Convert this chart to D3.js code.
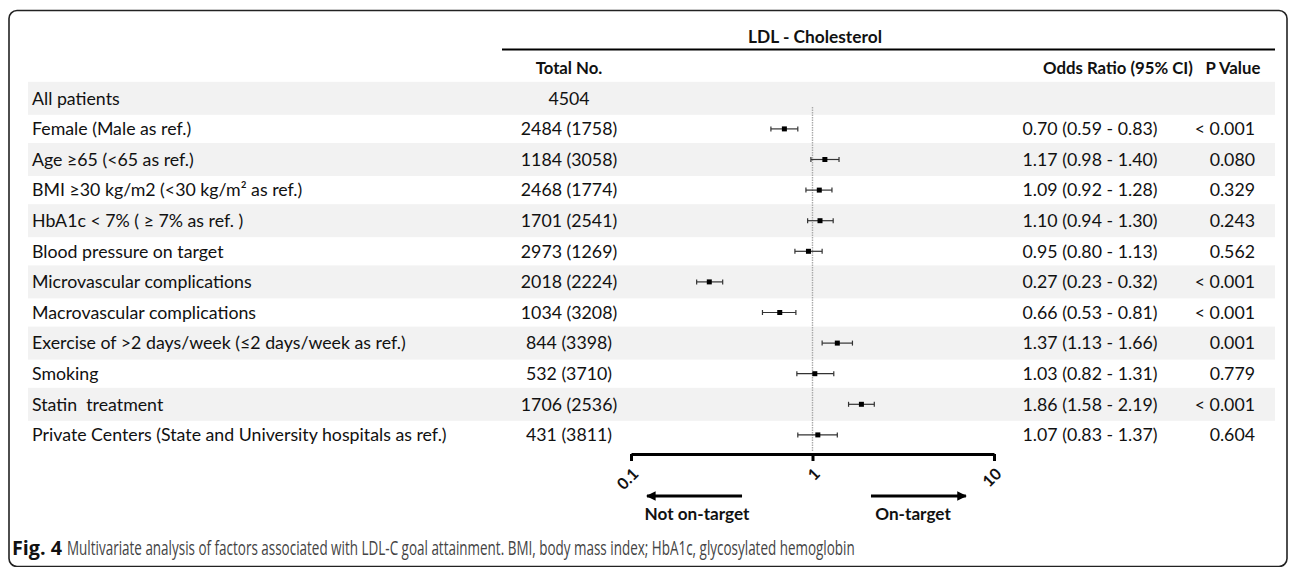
<!DOCTYPE html>
<html>
<head>
<meta charset="utf-8">
<script src="https://cdn.jsdelivr.net/npm/d3@7"></script>
<style>
  html, body { margin: 0; padding: 0; background: #fff; }
  svg { display: block; }
</style>
</head>
<body>
<svg id="chart" width="1290" height="567"></svg>
<script>
// ---------------- DATA ----------------
const categories = [
  "All patients",
  "Female (Male as ref.)",
  "Age \u226565 (<65 as ref.)",
  "BMI \u226530 kg/m2 (<30 kg/m\u00b2 as ref.)",
  "HbA1c < 7% ( \u2265 7% as ref. )",
  "Blood pressure on target",
  "Microvascular complications",
  "Macrovascular complications",
  "Exercise of >2 days/week (\u22642 days/week as ref.)",
  "Smoking",
  "Statin  treatment",
  "Private Centers (State and University hospitals as ref.)"
];
const totalNo = ["4504", "2484 (1758)", "1184 (3058)", "2468 (1774)", "1701 (2541)", "2973 (1269)",
  "2018 (2224)", "1034 (3208)", "844 (3398)", "532 (3710)", "1706 (2536)", "431 (3811)"];
const oddsRatio = [null, 0.70, 1.17, 1.09, 1.10, 0.95, 0.27, 0.66, 1.37, 1.03, 1.86, 1.07];
const ciLower   = [null, 0.59, 0.98, 0.92, 0.94, 0.80, 0.23, 0.53, 1.13, 0.82, 1.58, 0.83];
const ciUpper   = [null, 0.83, 1.40, 1.28, 1.30, 1.13, 0.32, 0.81, 1.66, 1.31, 2.19, 1.37];
const pValues   = ["", "< 0.001", "0.080", "0.329", "0.243", "0.562", "< 0.001", "< 0.001", "0.001", "0.779", "< 0.001", "0.604"];
const tickValues = [0.1, 1, 10];
const tickLabels = ["0.1", "1", "10"];
const title = "LDL - Cholesterol";
const colHeaders = ["Total No.", "Odds Ratio (95% CI)", "P Value"];
const directionLabels = ["Not on-target", "On-target"];
const captionBold = "Fig. 4";
const captionText = "Multivariate analysis of factors associated with LDL-C goal attainment. BMI, body mass index; HbA1c, glycosylated hemoglobin";

// ---------------- LAYOUT ----------------
const svg = d3.select("#chart");
const FONT = "Lato, 'Open Sans', 'Liberation Sans', sans-serif";

function fitWidth(sel, target) {
  const w = sel.node().getComputedTextLength();
  const fs = parseFloat(sel.attr("font-size"));
  const nfs = fs * target / w;
  sel.attr("font-size", nfs);
  return nfs;
}

// outer rounded border
svg.append("rect")
  .attr("x", 9).attr("y", 10.5).attr("width", 1278).attr("height", 556)
  .attr("rx", 8).attr("ry", 8)
  .attr("fill", "none").attr("stroke", "#222").attr("stroke-width", 1.6);

const y = d3.scaleBand().domain(categories).range([83, 83 + 30.6 * categories.length]).padding(0);
const yc = d => y(d) + y.bandwidth() / 2;
const x = d3.scaleLog().domain([0.1, 10]).range([631, 994]);

// alternating row bands
svg.append("g").selectAll("rect")
  .data(categories.filter((d, i) => i % 2 === 0))
  .join("rect")
  .attr("x", 28).attr("width", 1275 - 28)
  .attr("y", d => yc(d) - 16.5).attr("height", 33)
  .attr("fill", "#f2f2f2");

// header
const titleT = svg.append("text")
  .attr("x", 815).attr("y", 43).attr("text-anchor", "middle")
  .attr("font-family", FONT).attr("font-weight", "bold").attr("font-size", 16)
  .attr("fill", "#111").text(title);
fitWidth(titleT, 134);

svg.append("line").attr("x1", 502).attr("x2", 1275).attr("y1", 49.5).attr("y2", 49.5)
  .attr("stroke", "#000").attr("stroke-width", 2.2);

const hdrX = [569, 1118, 1233];
const hdrs = colHeaders.map((h, i) => svg.append("text")
    .attr("x", hdrX[i]).attr("y", 74).attr("text-anchor", "middle")
    .attr("font-family", FONT).attr("font-weight", "bold").attr("font-size", 15)
    .attr("fill", "#111").text(h));
const hfs = fitWidth(hdrs[1], 150);
hdrs.forEach(h => h.attr("font-size", hfs));

// row labels
const labG = svg.append("g").attr("font-family", FONT).attr("fill", "#111");
const labels = labG.selectAll("text.lab")
  .data(categories).join("text").attr("class", "lab")
  .attr("x", 32).attr("y", d => yc(d)).attr("dy", "0.35em")
  .attr("font-size", 15).attr("xml:space", "preserve")
  .text(d => d);
const longest = labels.filter((d, i) => i === categories.length - 1);
const fs = fitWidth(longest, 415);
labels.attr("font-size", fs);

labG.selectAll("text.tot")
  .data(categories).join("text").attr("class", "tot")
  .attr("x", 569).attr("y", d => yc(d)).attr("dy", "0.35em").attr("text-anchor", "middle")
  .attr("font-size", fs)
  .text((d, i) => totalNo[i]);

labG.selectAll("text.or")
  .data(categories).join("text").attr("class", "or")
  .attr("x", 1090).attr("y", d => yc(d)).attr("dy", "0.35em").attr("text-anchor", "middle")
  .attr("font-size", fs)
  .text((d, i) => oddsRatio[i] == null ? "" :
    `${oddsRatio[i].toFixed(2)} (${ciLower[i].toFixed(2)} - ${ciUpper[i].toFixed(2)})`);

labG.selectAll("text.p")
  .data(categories).join("text").attr("class", "p")
  .attr("x", 1255).attr("y", d => yc(d)).attr("dy", "0.35em").attr("text-anchor", "end")
  .attr("font-size", fs)
  .text((d, i) => pValues[i]);

// reference line at OR = 1
svg.append("line")
  .attr("x1", x(1)).attr("x2", x(1)).attr("y1", 107).attr("y2", 452)
  .attr("stroke", "#aaa").attr("stroke-width", 1.4).attr("stroke-dasharray", "1.5,1");

// CI whiskers and points
const pts = categories.map((c, i) => ({ c, or: oddsRatio[i], lo: ciLower[i], hi: ciUpper[i] }))
  .filter(d => d.or != null);
const fg = svg.append("g");
fg.selectAll("line.ci").data(pts).join("line").attr("class", "ci")
  .attr("x1", d => x(d.lo)).attr("x2", d => x(d.hi))
  .attr("y1", d => yc(d.c)).attr("y2", d => yc(d.c))
  .attr("stroke", "#333").attr("stroke-width", 1.2);
fg.selectAll("line.capL").data(pts).join("line").attr("class", "capL")
  .attr("x1", d => x(d.lo)).attr("x2", d => x(d.lo))
  .attr("y1", d => yc(d.c) - 2.5).attr("y2", d => yc(d.c) + 2.5)
  .attr("stroke", "#333").attr("stroke-width", 1.2);
fg.selectAll("line.capH").data(pts).join("line").attr("class", "capH")
  .attr("x1", d => x(d.hi)).attr("x2", d => x(d.hi))
  .attr("y1", d => yc(d.c) - 2.5).attr("y2", d => yc(d.c) + 2.5)
  .attr("stroke", "#333").attr("stroke-width", 1.2);
fg.selectAll("rect.pt").data(pts).join("rect").attr("class", "pt")
  .attr("x", d => x(d.or) - 2.5).attr("y", d => yc(d.c) - 2.5)
  .attr("width", 5).attr("height", 5).attr("fill", "#000");

// axis
const axis = d3.axisBottom(x).tickValues(tickValues)
  .tickFormat((d, i) => tickLabels[i]).tickSizeOuter(0).tickSizeInner(7).tickPadding(4);
const ax = svg.append("g").attr("transform", "translate(0,454)").call(axis);
ax.select(".domain").attr("stroke", "#000").attr("stroke-width", 3);
ax.selectAll(".tick line").attr("stroke", "#000").attr("stroke-width", 3);
ax.selectAll(".tick text")
  .attr("font-family", FONT).attr("font-weight", "bold").attr("font-size", 16).attr("fill", "#111")
  .attr("text-anchor", "end")
  .attr("transform", "translate(4,17) rotate(-45)")
  .attr("y", 0).attr("dy", "0.35em").attr("x", 0);

// direction arrows
svg.append("defs").append("marker")
  .attr("id", "ah").attr("viewBox", "0 0 10 10").attr("refX", 9).attr("refY", 5)
  .attr("markerWidth", 4).attr("markerHeight", 3).attr("orient", "auto")
  .attr("markerUnits", "strokeWidth")
  .append("path").attr("d", "M0,0 L10,5 L0,10 Z").attr("fill", "#000");

const arrows = [
  { from: 0.409, to: 0.1225 },
  { from: 2.10, to: 7.0 }
];
svg.append("g").selectAll("line").data(arrows).join("line")
  .attr("x1", d => x(d.from)).attr("x2", d => x(d.to))
  .attr("y1", 496).attr("y2", 496)
  .attr("stroke", "#000").attr("stroke-width", 3.2)
  .attr("marker-end", "url(#ah)");

const dirX = [697, 913];
const dirs = directionLabels.map((t, i) => svg.append("text")
    .attr("x", dirX[i]).attr("y", 520).attr("text-anchor", "middle")
    .attr("font-family", FONT).attr("font-weight", "bold").attr("font-size", 15)
    .attr("fill", "#111").text(t));
const dfs = fitWidth(dirs[0], 105);
dirs.forEach(d => d.attr("font-size", dfs));

// caption: bold figure number, then condensed body text via horizontal scaling
const figT = svg.append("text").attr("x", 12).attr("y", 554.5)
  .attr("font-family", "'Open Sans', 'Liberation Sans', sans-serif")
  .attr("font-weight", "bold").attr("font-size", 17).attr("fill", "#111")
  .text(captionBold);
fitWidth(figT, 50);
const capG = svg.append("g").attr("transform", "translate(67,554.5)");
const cap = capG.append("text").attr("x", 0).attr("y", 0)
  .attr("font-family", "'Open Sans', 'Liberation Sans', sans-serif")
  .attr("font-size", 19.5).attr("fill", "#444")
  .text(captionText);
const capW = cap.node().getComputedTextLength();
capG.attr("transform", `translate(67,554.5) scale(${788 / capW},1)`);
</script>
</body>
</html>
